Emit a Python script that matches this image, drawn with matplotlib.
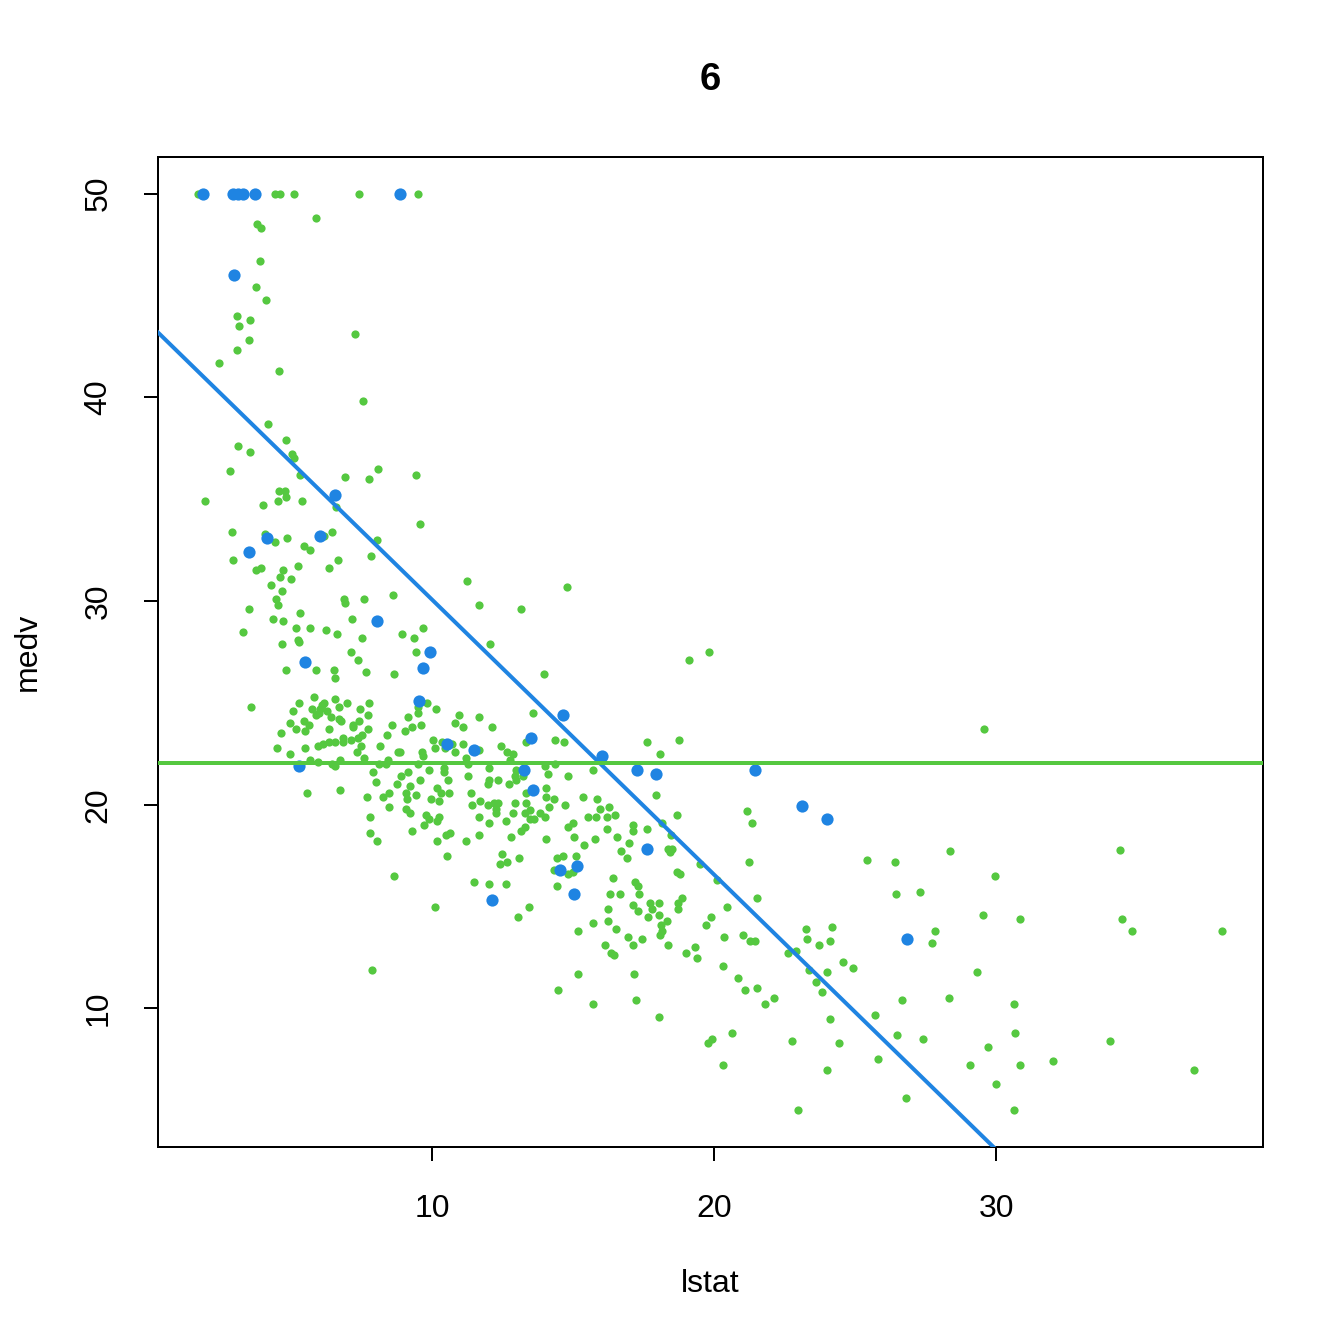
import matplotlib
matplotlib.use("Agg")
import matplotlib.pyplot as plt
import numpy as np

plt.rcParams['font.family'] = ['Liberation Sans', 'DejaVu Sans']

lstat_all = [
    1.70, 3.26, 4.43, 4.61, 5.10, 7.41, 9.50, 5.89, 3.79, 3.94,
    3.90, 3.76, 4.11, 3.09, 3.55, 3.16, 7.27, 3.51, 3.09, 2.45,
    4.57, 7.55, 4.18, 4.82, 3.12, 3.55, 5.04, 5.10, 2.84, 5.32,
    6.91, 7.77, 8.09, 9.43, 4.57, 4.79, 4.82, 4.54, 5.39, 1.95,
    4.00, 6.60, 9.57, 2.91, 4.08, 4.43, 4.86, 6.17, 6.45, 8.05,
    5.46, 5.67, 2.94, 7.84, 6.67, 6.35, 3.76, 3.94, 5.25, 4.72,
    4.61, 5.00, 4.29, 4.68, 11.24, 8.62, 4.47, 4.54, 6.88, 6.91,
    7.59, 3.51, 5.32, 7.16, 4.36, 4.72, 3.30, 5.18, 5.67, 6.24,
    6.63, 7.52, 8.94, 9.68, 9.36, 5.25, 14.79, 11.67, 13.16, 12.06,
    13.97, 19.10, 19.80,
    4.68, 5.28, 7.13, 7.38, 4.82, 5.89, 6.52, 6.56, 7.66, 8.65,
    3.58, 5.82, 5.28, 5.07, 6.17, 6.10, 6.56, 6.99, 7.77, 5.74,
    6.03, 6.28, 6.70, 7.45, 5.89, 5.99, 6.42, 7.73, 4.96, 5.46,
    5.64, 6.70, 6.77, 7.41, 7.20, 7.20, 5.18, 5.50, 6.35, 8.58,
    7.73, 4.65, 6.84, 6.84, 7.13, 7.38, 7.52, 6.56, 6.35, 6.13,
    5.96, 8.40, 4.50, 5.50, 7.48, 8.16, 7.34, 4.96, 8.79, 7.59,
    5.67, 5.96, 6.74, 6.45, 6.56, 8.44, 8.12, 8.35, 7.91, 8.90,
    8.01, 8.76, 5.57, 6.74, 8.48, 7.70, 8.26, 8.48, 7.80, 7.80,
    8.05,
    9.43, 9.82, 9.50, 9.50, 10.14, 9.15, 10.96, 11.67, 13.58, 9.29,
    9.04, 9.61, 10.82, 11.10, 12.13, 10.04, 10.35, 10.70, 10.10, 10.46,
    11.10, 11.67, 12.45, 12.66, 12.87, 13.33, 14.36, 14.68, 9.64, 9.68,
    8.87, 10.82, 11.20, 11.28, 12.77, 9.50, 10.40, 10.40, 9.89, 9.15,
    12.00, 12.98, 14.00, 14.36, 15.70, 14.10, 14.80, 11.28, 12.95, 13.20,
    9.57, 10.57, 12.02, 12.34, 12.98, 11.99, 12.73, 9.22, 14.04, 10.17,
    10.30, 9.08, 9.43, 10.60, 11.38, 13.33, 14.04, 14.30, 15.35, 15.85,
    9.96, 10.25, 9.11, 11.70, 13.33, 12.34, 12.20, 12.94, 11.42, 11.99,
    14.15, 14.72, 16.28, 9.08, 15.96, 12.27, 9.22, 12.27, 12.87, 13.30,
    13.45, 13.83, 13.98, 9.79, 10.25, 11.67, 13.48, 13.62, 15.53, 15.82,
    16.20, 16.49, 9.89, 10.18, 12.62, 12.02, 14.82, 14.99, 16.20, 13.30,
    13.16, 9.71, 9.29, 10.64, 10.50, 11.67, 12.80, 14.04, 15.04, 15.78,
    16.56, 10.18, 11.20, 15.39,
    17.62, 18.76, 18.09, 17.94, 18.69, 21.17, 21.35, 17.13, 17.10, 17.60,
    18.16, 18.48, 16.99, 18.37, 18.50,
    10.53, 12.48, 12.41, 12.66, 13.09, 14.43, 14.33, 14.43, 8.65, 11.49,
    12.02, 12.62, 10.11, 13.44, 13.05, 7.87, 14.47,
    15.10, 14.65, 15.00, 14.80, 16.91, 16.70, 18.44, 16.40, 17.20, 17.30,
    18.69, 18.80, 19.50, 21.24, 16.30, 16.67, 17.34, 20.10, 21.50, 16.24,
    17.13, 17.30, 17.73, 17.80, 18.05, 18.72, 18.87, 18.72, 20.46, 16.24,
    15.70, 18.05, 17.66, 18.33, 18.12, 18.16, 18.09, 19.90, 19.72, 16.52,
    15.18, 16.95, 17.45, 16.13, 17.13, 18.37, 16.35, 16.45, 20.35, 21.03,
    21.28, 21.45, 19.33, 19.00, 19.40, 22.62, 22.90, 20.32, 15.18, 17.16,
    20.85, 21.10, 21.52, 21.80, 22.13, 15.70, 17.23, 18.05, 20.64, 19.79,
    19.93, 22.77, 20.32, 22.98,
    25.43, 26.42, 28.37, 29.96, 26.45, 27.30, 29.54, 30.85, 23.26, 24.18,
    23.30, 23.72, 24.11, 27.84, 27.73, 24.57, 24.93, 23.37, 24.00, 23.62,
    23.83, 29.33, 26.67, 28.33, 30.64, 25.71, 24.11, 30.67, 26.49, 27.41,
    29.72, 24.43, 25.82, 29.08, 30.85, 24.00, 30.00, 26.81, 30.64,
    34.40, 34.47, 34.82, 38.00, 34.04, 32.00, 37.00, 29.57,
]
medv_all = [
    50.0, 50.0, 50.0, 50.0, 50.0, 50.0, 50.0, 48.8, 48.5, 48.3,
    46.7, 45.4, 44.8, 44.0, 43.8, 43.5, 43.1, 42.8, 42.3, 41.7,
    41.3, 39.8, 38.7, 37.9, 37.6, 37.3, 37.2, 37.0, 36.4, 36.2,
    36.1, 36.0, 36.5, 36.2, 35.4, 35.4, 35.1, 34.9, 34.9, 34.9,
    34.7, 34.6, 33.8, 33.4, 33.3, 32.9, 33.1, 33.2, 33.4, 33.0,
    32.7, 32.5, 32.0, 32.2, 32.0, 31.6, 31.5, 31.6, 31.7, 31.5,
    31.2, 31.1, 30.8, 30.5, 31.0, 30.3, 30.1, 29.8, 30.1, 29.9,
    30.1, 29.6, 29.4, 29.1, 29.1, 29.0, 28.5, 28.7, 28.7, 28.6,
    28.4, 28.2, 28.4, 28.7, 28.2, 28.1, 30.7, 29.8, 29.6, 27.9,
    26.4, 27.1, 27.5,
    27.9, 28.0, 27.5, 27.1, 26.6, 26.6, 26.6, 26.2, 26.5, 26.4,
    24.8, 25.3, 25.0, 24.6, 25.0, 24.9, 25.2, 25.0, 25.0, 24.7,
    24.7, 24.6, 24.8, 24.7, 24.4, 24.5, 24.3, 24.4, 24.0, 24.1,
    23.9, 24.2, 24.1, 24.1, 23.9, 23.8, 23.7, 23.6, 23.7, 23.9,
    23.7, 23.5, 23.3, 23.1, 23.2, 23.3, 23.4, 23.1, 23.1, 23.0,
    22.9, 23.4, 22.8, 22.8, 22.9, 22.9, 22.6, 22.5, 22.6, 22.3,
    22.2, 22.1, 22.2, 22.0, 21.9, 22.2, 22.0, 22.0, 21.6, 21.4,
    21.1, 21.0, 20.6, 20.7, 20.6, 20.4, 20.4, 19.9, 19.4, 18.6,
    18.2,
    27.5, 25.0, 24.8, 24.5, 24.7, 24.3, 24.4, 24.3, 24.5, 23.8,
    23.6, 23.9, 24.0, 23.8, 23.8, 23.2, 23.1, 23.0, 22.8, 22.8,
    23.0, 22.7, 22.9, 22.6, 22.5, 23.1, 23.2, 23.1, 22.6, 22.4,
    22.6, 22.6, 22.3, 22.0, 22.2, 22.0, 21.8, 21.6, 21.7, 21.6,
    21.8, 21.7, 21.9, 22.0, 21.7, 21.5, 21.4, 21.4, 21.4, 21.4,
    21.2, 21.2, 21.2, 21.2, 21.2, 21.0, 21.0, 20.9, 20.8, 20.8,
    20.6, 20.6, 20.5, 20.6, 20.6, 20.6, 20.4, 20.3, 20.4, 20.3,
    20.3, 20.2, 20.3, 20.2, 20.1, 20.1, 20.1, 20.1, 20.0, 20.0,
    19.9, 20.0, 19.9, 19.8, 19.8, 19.8, 19.6, 19.6, 19.6, 19.6,
    19.75, 19.6, 19.4, 19.5, 19.4, 19.4, 19.3, 19.3, 19.4, 19.4,
    19.4, 19.5, 19.3, 19.2, 19.2, 19.1, 18.9, 19.1, 18.8, 18.9,
    18.7, 19.0, 18.7, 18.6, 18.5, 18.5, 18.4, 18.3, 18.4, 18.3,
    18.4, 18.2, 18.2, 18.0,
    23.1, 23.2, 22.5, 20.5, 19.5, 19.7, 19.1, 19.0, 18.7, 18.8,
    19.1, 18.5, 18.1, 17.85, 17.85,
    17.5, 17.6, 17.1, 17.2, 17.4, 17.4, 16.8, 16.0, 16.5, 16.2,
    16.1, 16.1, 15.0, 15.0, 14.5, 11.9, 10.9,
    17.5, 17.5, 16.7, 16.6, 17.4, 17.75, 17.7, 16.4, 16.2, 16.0,
    16.7, 16.6, 17.1, 17.2, 15.6, 15.6, 15.6, 16.3, 15.4, 14.9,
    15.1, 14.8, 15.2, 14.9, 15.2, 15.2, 15.4, 14.9, 15.0, 14.3,
    14.2, 14.6, 14.5, 14.3, 14.1, 13.8, 13.6, 14.5, 14.1, 13.9,
    13.8, 13.5, 13.4, 13.1, 13.1, 13.1, 12.7, 12.6, 13.5, 13.6,
    13.3, 13.3, 13.0, 12.7, 12.5, 12.7, 12.8, 12.1, 11.7, 11.7,
    11.5, 10.9, 11.0, 10.2, 10.5, 10.2, 10.4, 9.6, 8.8, 8.3,
    8.5, 8.4, 7.2, 5.0,
    17.3, 17.2, 17.75, 16.5, 15.6, 15.7, 14.6, 14.4, 13.9, 14.0,
    13.4, 13.1, 13.3, 13.8, 13.2, 12.3, 12.0, 11.9, 11.8, 11.3,
    10.8, 11.8, 10.4, 10.5, 10.2, 9.7, 9.5, 8.8, 8.7, 8.5,
    8.1, 8.3, 7.5, 7.2, 7.2, 7.0, 6.3, 5.6, 5.0,
    17.8, 14.4, 13.8, 13.8, 8.4, 7.4, 7.0, 23.7,
]

# highlighted sample
lstat_sample = [1.88, 2.94, 3.12, 3.30, 3.72, 8.87, 2.98, 6.56, 4.15, 6.03,
                3.51, 8.05, 5.50, 9.93, 9.68, 9.54, 14.65, 10.53, 11.48, 13.50,
                16.03, 13.26, 13.58, 5.28, 17.27, 17.94, 21.45, 23.12, 24.00, 17.62,
                14.54, 15.14, 15.04, 12.13, 26.84]
medv_sample = [50.0, 50.0, 50.0, 50.0, 50.0, 50.0, 46.0, 35.2, 33.1, 33.2,
               32.4, 29.0, 27.0, 27.5, 26.7, 25.1, 24.4, 23.0, 22.7, 23.3,
               22.4, 21.7, 20.7, 21.9, 21.7, 21.5, 21.7, 19.95, 19.3, 17.85,
               16.8, 17.0, 15.6, 15.3, 13.4]

fit_intercept = 43.56
fit_slope = -1.35
mean_line = 22.07

green = "#55C840"
blue = "#1F84E2"

fig = plt.figure(figsize=(7, 7), dpi=192)
ax = fig.add_axes([0.1176, 0.1466, 0.8221, 0.7366])

ax.scatter(lstat_all, medv_all, s=9.5, color=green, linewidths=0, zorder=2)
ax.scatter(lstat_sample, medv_sample, s=21, color=blue, linewidths=0, zorder=3)

xs = np.array([-5, 45])
ax.plot(xs, fit_intercept + fit_slope * xs, color=blue, lw=1.5, zorder=4)
ax.axhline(mean_line, color=green, lw=1.5, zorder=4)

xmin, xmax = 1.73, max(lstat_all)
dx = (xmax - xmin) * 0.04
ax.set_xlim(xmin - dx, xmax + dx)
ymin, ymax = 5, 50
dy = (ymax - ymin) * 0.04
ax.set_ylim(ymin - dy, ymax + dy)

ax.set_xticks([10, 20, 30])
ax.set_yticks([10, 20, 30, 40, 50])
ax.tick_params(direction='out', length=5.25, width=0.75, labelsize=12, color='black')
ax.tick_params(axis='x', pad=12.5)
ax.tick_params(axis='y', pad=11.5)
for lab in ax.get_yticklabels():
    lab.set_rotation(90)
    lab.set_va('center')
for sp in ax.spines.values():
    sp.set_linewidth(0.75)

ax.set_xlabel("lstat", fontsize=12)
ax.set_ylabel("medv", fontsize=12)
ax.xaxis.set_label_coords(0.5, (1147 - 1284) / 990)
ax.xaxis.label.set_va('center')
ax.yaxis.set_label_coords((28 - 158) / 1105, 0.5)
ax.yaxis.label.set_va('center')

fig.text(710 / 1344, 1 - 80 / 1344, "6", fontsize=14.4, fontweight='bold',
         ha='center', va='center')

fig.savefig("out.png", dpi=192)
